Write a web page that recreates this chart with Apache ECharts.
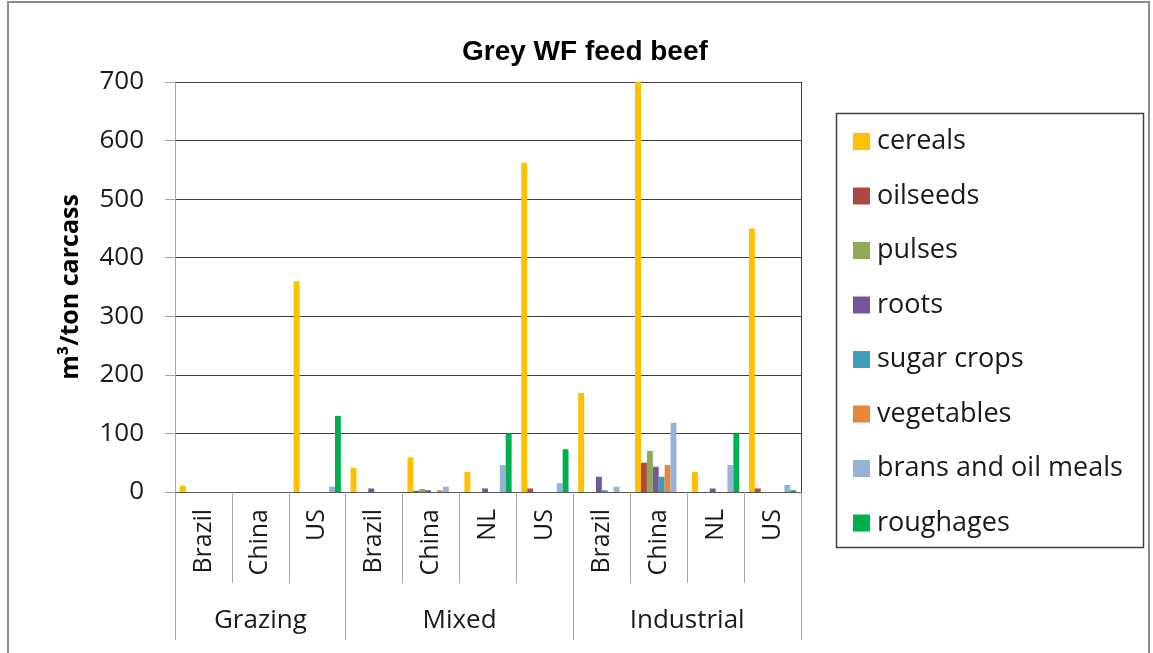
<!DOCTYPE html>
<html>
<head>
<meta charset="utf-8">
<script src="https://cdn.jsdelivr.net/npm/echarts@6/dist/echarts.min.js"></script>
<style>
  html, body { margin: 0; padding: 0; background: #fff; }
  #chart { width: 1153px; height: 653px; }
</style>
</head>
<body>
<div id="chart"></div>
<script>
// categories (inner level) and their groups (outer level)
const countries = ["Brazil", "China", "US", "Brazil", "China", "NL", "US", "Brazil", "China", "NL", "US"];
const groups = ["Grazing", "Mixed", "Industrial"];
const groupSizes = [3, 4, 4];

// series values, m3/ton carcass
const cereals = [11, 0, 360, 41, 59, 34, 562, 169, 700, 34, 450];
const oilseeds = [0, 0, 0, 0, 2, 0, 6, 0, 50, 0, 6];
const pulses = [0, 0, 0, 0, 5, 0, 0, 0, 70, 0, 0];
const roots = [0, 0, 0, 6, 3, 6, 0, 26, 43, 6, 0];
const sugarCrops = [0, 0, 0, 0, 0, 0, 0, 3, 26, 0, 0];
const vegetables = [0, 0, 0, 0, 3, 0, 0, 0, 46, 0, 0];
const brans = [0, 0, 9, 0, 9, 46, 15, 9, 118, 46, 12];
const roughages = [0, 0, 130, 0, 0, 100, 73, 0, 0, 100, 3];

const yTicks = [0, 100, 200, 300, 400, 500, 600, 700];

const seriesDefs = [
  ["cereals", cereals, "#FFC000"],
  ["oilseeds", oilseeds, "#AE4845"],
  ["pulses", pulses, "#8FAA55"],
  ["roots", roots, "#72579B"],
  ["sugar crops", sugarCrops, "#3F9DB5"],
  ["vegetables", vegetables, "#E5883C"],
  ["brans and oil meals", brans, "#95B3D7"],
  ["roughages", roughages, "#00B050"]
];

// group boundaries and centres on a 0..n scale
const groupEdges = [0];
const groupCenters = [];
groupSizes.forEach((s) => {
  const start = groupEdges[groupEdges.length - 1];
  groupCenters.push(start + s / 2);
  groupEdges.push(start + s);
});

const font = "'Open Sans', sans-serif";

const chart = echarts.init(document.getElementById("chart"));

chart.setOption({
  animation: false,
  backgroundColor: "#fff",
  title: {
    text: "Grey WF feed beef",
    left: 457,
    top: 33,
    textStyle: {
      fontFamily: "'Liberation Sans', Arial, sans-serif",
      fontWeight: "bold",
      fontSize: 28,
      color: "#000"
    }
  },
  graphic: [
    {
      type: "rect",
      shape: { x: 8, y: 2, width: 1141, height: 700 },
      style: { fill: "none", stroke: "#8c8c8c", lineWidth: 2 },
      silent: true
    },
    {
      type: "rect",
      shape: { x: 836.5, y: 113.5, width: 307, height: 434 },
      style: { fill: "none", stroke: "#404040", lineWidth: 1.5 },
      silent: true
    }
  ],
  legend: {
    orient: "vertical",
    left: 853,
    top: 128,
    padding: 0,
    itemWidth: 17,
    itemHeight: 17,
    itemGap: 27.5,
    icon: "rect",
    textStyle: {
      fontFamily: font,
      fontSize: 27,
      color: "#1a1a1a",
      padding: [0, 0, 0, 2]
    }
  },
  grid: {
    left: 175,
    right: 352,
    top: 82,
    bottom: 161,
    containLabel: false
  },
  xAxis: [
    {
      type: "category",
      data: countries,
      position: "bottom",
      axisLine: { show: true, lineStyle: { color: "#595959", width: 1 } },
      axisTick: {
        show: true,
        interval: 0,
        length: 91,
        lineStyle: { color: "#a6a6a6", width: 1 }
      },
      axisLabel: {
        interval: 0,
        rotate: 90,
        margin: 17,
        hideOverlap: false,
        fontFamily: font,
        fontSize: 25,
        color: "#1a1a1a"
      },
      splitLine: { show: false }
    },
    {
      type: "value",
      min: 0,
      max: countries.length,
      position: "bottom",
      axisLine: { show: false },
      axisTick: {
        show: true,
        customValues: groupEdges,
        length: 148,
        lineStyle: { color: "#a6a6a6", width: 1 }
      },
      axisLabel: {
        show: true,
        customValues: groupCenters,
        margin: 116,
        fontFamily: font,
        fontSize: 26,
        color: "#1a1a1a",
        formatter(v) {
          const i = groupCenters.indexOf(v);
          return i >= 0 ? groups[i] : "";
        }
      },
      splitLine: { show: false }
    }
  ],
  yAxis: [
    {
      type: "value",
      min: yTicks[0],
      max: yTicks[yTicks.length - 1],
      interval: 100,
      name: "m³/ton carcass",
      nameLocation: "middle",
      nameGap: 92,
      nameTextStyle: {
        fontFamily: font,
        fontWeight: "bold",
        fontSize: 25,
        color: "#000"
      },
      axisLine: { show: true, lineStyle: { color: "#a6a6a6", width: 1 } },
      axisTick: { show: true, length: 10, lineStyle: { color: "#a6a6a6" } },
      axisLabel: {
        margin: 31,
        fontFamily: font,
        fontSize: 26,
        color: "#1a1a1a"
      },
      splitLine: { show: true, lineStyle: { color: "#404040", width: 1 } }
    },
    {
      type: "value",
      min: yTicks[0],
      max: yTicks[yTicks.length - 1],
      position: "right",
      axisLine: { show: true, lineStyle: { color: "#404040", width: 1 } },
      axisTick: { show: false },
      axisLabel: { show: false },
      splitLine: { show: false }
    }
  ],
  series: seriesDefs.map(([name, values, color]) => ({
    name,
    type: "bar",
    xAxisIndex: 0,
    yAxisIndex: 0,
    data: values,
    barGap: "0%",
    barCategoryGap: "17%",
    itemStyle: { color }
  }))
});

window.addEventListener("resize", () => chart.resize());
</script>
</body>
</html>
